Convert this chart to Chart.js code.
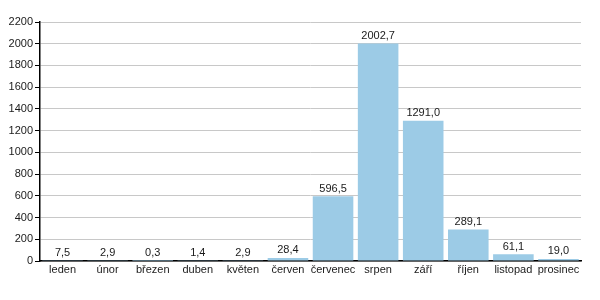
<!DOCTYPE html>
<html>
<head>
<meta charset="utf-8">
<script src="https://cdn.jsdelivr.net/npm/chart.js@4"></script>
<style>
  html, body { margin: 0; padding: 0; background: #fff; }
  #wrap { width: 600px; height: 300px; }
</style>
</head>
<body>
<div id="wrap"><canvas id="chart" width="600" height="300"></canvas></div>
<script>
const months = ["leden", "únor", "březen", "duben", "květen", "červen", "červenec", "srpen", "září", "říjen", "listopad", "prosinec"]
const values = [7.5, 2.9, 0.3, 1.4, 2.9, 28.4, 596.5, 2002.7, 1291.0, 289.1, 61.1, 19.0]
const yTicks = [0, 200, 400, 600, 800, 1000, 1200, 1400, 1600, 1800, 2000, 2200]

const fontFamily = "'Liberation Sans', Arial, sans-serif"

const valueLabels = {
    id: "valueLabels",
    afterDatasetsDraw(chart) {
        const ctx = chart.ctx
        const meta = chart.getDatasetMeta(0)
        ctx.save()
        ctx.font = "11px " + fontFamily
        ctx.fillStyle = "#1a1a1a"
        ctx.textAlign = "center"
        ctx.textBaseline = "bottom"
        meta.data.forEach((bar, i) => {
            const txt = values[i].toFixed(1).replace(".", ",")
            ctx.fillText(txt, bar.x, bar.y - 2)
        })
        ctx.restore()
    }
}

new Chart(document.getElementById("chart"), {
    type: "bar",
    data: {
        labels: months,
        datasets: [{
            data: values,
            backgroundColor: "#9ccbe6",
            borderWidth: 0,
            barPercentage: 0.9,
            categoryPercentage: 1.0
        }]
    },
    options: {
        responsive: false,
        animation: false,
        layout: { padding: { top: 22, right: 19, left: 0, bottom: 0 } },
        plugins: {
            legend: { display: false },
            tooltip: { enabled: false }
        },
        scales: {
            x: {
                grid: { display: false, drawTicks: false },
                border: { color: "#000", width: 1.5 },
                ticks: {
                    color: "#1a1a1a",
                    font: { family: fontFamily, size: 11 },
                    padding: 2,
                    maxRotation: 0,
                    autoSkip: false
                },
                afterFit(scale) { scale.height = 39 }
            },
            y: {
                min: 0,
                max: 2200,
                afterBuildTicks(scale) { scale.ticks = yTicks.map(v => ({ value: v })) },
                grid: { color: "#c8c8c8", tickColor: "#000", tickLength: 5, lineWidth: 1 },
                border: { color: "#000", width: 1.5 },
                ticks: {
                    color: "#1a1a1a",
                    font: { family: fontFamily, size: 11 },
                    padding: 2,
                    callback: (v) => String(v)
                },
                afterFit(scale) { scale.width = 40 }
            }
        }
    },
    plugins: [valueLabels]
})
</script>
</body>
</html>
